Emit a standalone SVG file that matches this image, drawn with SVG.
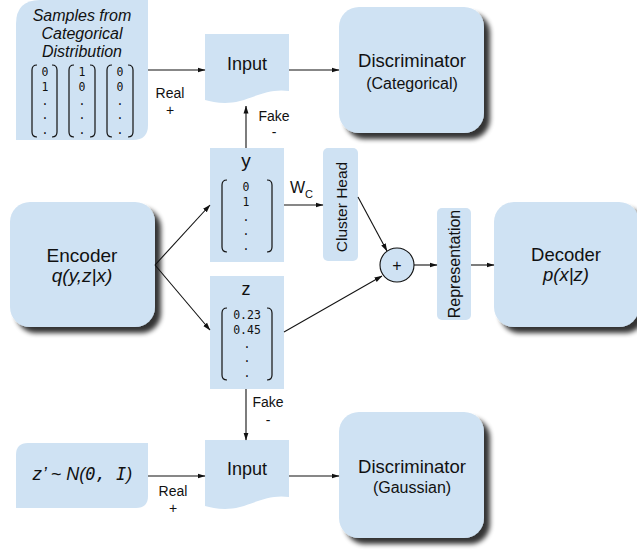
<svg xmlns="http://www.w3.org/2000/svg" width="637" height="552" viewBox="0 0 637 552">
<style>
.box{fill:#cfe2f3;stroke:none}
.sans{font-family:"Liberation Sans",Arial,sans-serif;fill:#111}
.mono{font-family:"DejaVu Sans Mono",monospace;fill:#111;font-size:11.5px}
.c{text-anchor:middle}
.br{fill:none;stroke:#111;stroke-width:1.2}
.edge{fill:none;stroke:#111;stroke-width:1.1;marker-end:url(#ah)}
</style>
<defs>
<marker id="ah" markerWidth="8" markerHeight="6" refX="7.5" refY="3" orient="auto" markerUnits="userSpaceOnUse">
<path d="M0,0.5 L8,3 L0,5.5 Z" fill="#111"/>
</marker>
<filter id="sh" x="-10%" y="-10%" width="130%" height="130%">
<feGaussianBlur in="SourceAlpha" stdDeviation="2.5"/>
<feOffset dx="6" dy="6" result="o"/>
<feComponentTransfer><feFuncA type="linear" slope="0.8"/></feComponentTransfer>
<feMerge><feMergeNode/><feMergeNode in="SourceGraphic"/></feMerge>
</filter>
</defs>

<g id="samples">
<path class="box" d="M16,24 Q16,0 40,0 H148 V125 Q148,140 133,140 H16 Z"/>
<text class="sans c" x="82" y="21" font-size="16" font-style="italic">Samples from</text>
<text class="sans c" x="82" y="39" font-size="16" font-style="italic">Categorical</text>
<text class="sans c" x="82" y="57" font-size="16" font-style="italic">Distribution</text>
<path class="br" d="M37,65 Q32,65 32,70 V132 Q32,137 37,137 M52,65 Q57,65 57,70 V132 Q57,137 52,137"/>
<path class="br" d="M74,65 Q69,65 69,70 V132 Q69,137 74,137 M90,65 Q95,65 95,70 V132 Q95,137 90,137"/>
<path class="br" d="M112,65 Q107,65 107,70 V132 Q107,137 112,137 M128,65 Q133,65 133,70 V132 Q133,137 128,137"/>
<g class="mono c">
<text x="45" y="76">0</text><text x="45" y="91">1</text><text x="45" y="105">.</text><text x="45" y="119">.</text><text x="45" y="134">.</text>
<text x="82" y="76">1</text><text x="82" y="91">0</text><text x="82" y="105">.</text><text x="82" y="119">.</text><text x="82" y="134">.</text>
<text x="120" y="76">0</text><text x="120" y="91">0</text><text x="120" y="105">.</text><text x="120" y="119">.</text><text x="120" y="134">.</text>
</g>
</g>

<g id="input-cat">
<path class="box" d="M205,34 H289 V91 C270,88 255,97 240,101 C225,105 213,102 205,100 Z"/>
<text class="sans c" x="247" y="70" font-size="18">Input</text>
</g>

<g id="disc-cat">
<rect class="box" x="339" y="7" width="145" height="126" rx="20" filter="url(#sh)"/>
<text class="sans c" x="412" y="67" font-size="18.5">Discriminator</text>
<text class="sans c" x="412" y="89" font-size="16">(Categorical)</text>
</g>

<g id="y">
<rect class="box" x="210" y="148" width="74" height="114"/>
<text class="sans c" x="246" y="167" font-size="19">y</text>
<path class="br" d="M227,180 Q222,180 222,185 V247 Q222,252 227,252 M267,180 Q272,180 272,185 V247 Q272,252 267,252"/>
<g class="mono c">
<text x="246" y="191">0</text><text x="246" y="206">1</text><text x="246" y="221">.</text><text x="246" y="235">.</text><text x="246" y="250">.</text>
</g>
</g>

<g id="cluster-head">
<rect class="box" x="323" y="148" width="35" height="113" rx="5"/>
<text class="sans c" transform="translate(341,207) rotate(-90)" y="5.5" font-size="15.5">Cluster Head</text>
</g>

<g id="encoder">
<rect class="box" x="10" y="202" width="145" height="125" rx="20" filter="url(#sh)"/>
<text class="sans c" x="82" y="262" font-size="19">Encoder</text>
<text class="sans c" x="82" y="282" font-size="19" font-style="italic">q(y,z|x)</text>
</g>

<g id="z">
<rect class="box" x="210" y="276" width="74" height="113"/>
<text class="sans c" x="246" y="295" font-size="18">z</text>
<path class="br" d="M227,308 Q222,308 222,313 V375 Q222,380 227,380 M267,308 Q272,308 272,313 V375 Q272,380 267,380"/>
<g class="mono c">
<text x="247" y="319">0.23</text><text x="247" y="334">0.45</text><text x="247" y="348">.</text><text x="247" y="362">.</text><text x="247" y="377">.</text>
</g>
</g>

<g id="plus">
<circle cx="397" cy="265" r="17" fill="#cfe2f3" stroke="#111" stroke-width="1.1"/>
<text class="sans c" x="397" y="270.5" font-size="16">+</text>
</g>

<g id="representation">
<rect class="box" x="437" y="208" width="34" height="112" rx="5"/>
<text class="sans c" transform="translate(454,264) rotate(-90)" y="5.5" font-size="16">Representation</text>
</g>

<g id="decoder">
<rect class="box" x="494" y="202" width="145" height="125" rx="20" filter="url(#sh)"/>
<text class="sans c" x="566" y="261" font-size="18.5">Decoder</text>
<text class="sans c" x="566" y="281" font-size="18.5" font-style="italic">p(x|z)</text>
</g>

<g id="prior">
<path class="box" d="M16,455 Q16,443 28,443 H148 V496 Q148,508 136,508 H16 Z"/>
<text x="82" y="480" class="c" font-size="18" font-style="italic" fill="#111"><tspan font-family="DejaVu Sans Mono,monospace">z</tspan><tspan font-family="Liberation Sans,sans-serif">’ ~ N(</tspan><tspan font-family="DejaVu Sans Mono,monospace" font-size="17">0,  I</tspan><tspan font-family="Liberation Sans,sans-serif">)</tspan></text>
</g>

<g id="input-gauss">
<path class="box" d="M205,440 H289 V497 C270,494 255,503 240,507 C225,511 213,508 205,506 Z"/>
<text class="sans c" x="247" y="475" font-size="18">Input</text>
</g>

<g id="disc-gauss">
<rect class="box" x="339" y="412" width="145" height="126" rx="20" filter="url(#sh)"/>
<text class="sans c" x="412" y="473" font-size="18.5">Discriminator</text>
<text class="sans c" x="412" y="493" font-size="16">(Gaussian)</text>
</g>

<g id="connectors">
<path class="edge" d="M148,70 H205"/>
<path class="edge" d="M289,70 H339"/>
<path class="edge" d="M246,148 V106"/>
<path class="edge" d="M155,265 L210,205"/>
<path class="edge" d="M155,265 L210,330"/>
<path class="edge" d="M284,205 H323"/>
<path class="edge" d="M358,197 L387,251"/>
<path class="edge" d="M284,332 L382,276"/>
<path class="edge" d="M414,265 H437"/>
<path class="edge" d="M471,265 H494"/>
<path class="edge" d="M246,389 V440"/>
<path class="edge" d="M148,476 H205"/>
<path class="edge" d="M289,476 H339"/>
<g class="sans c" font-size="14">
<text x="170" y="98">Real</text><text x="170" y="115">+</text>
<text x="274" y="121">Fake</text><text x="274" y="137">-</text>
<text x="268" y="407">Fake</text><text x="268" y="425">-</text>
<text x="173" y="496">Real</text><text x="173" y="513">+</text>
</g>
<text class="sans" x="290" y="193" font-size="16">W<tspan font-size="11" dy="5">C</tspan></text>
</g>
</svg>
